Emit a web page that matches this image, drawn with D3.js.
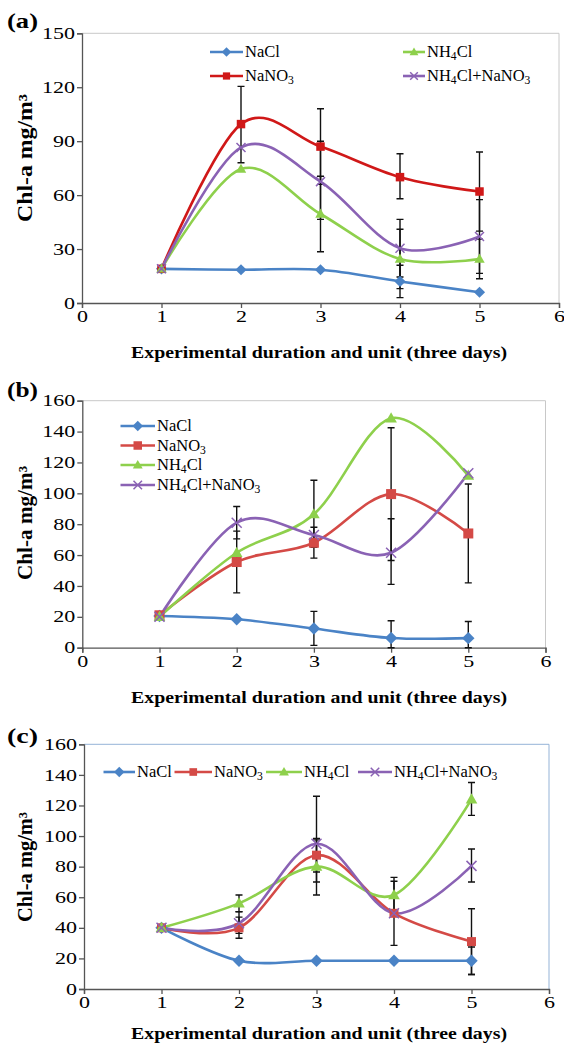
<!DOCTYPE html>
<html>
<head>
<meta charset="utf-8">
<script src="https://cdn.jsdelivr.net/npm/d3@7"></script>
<style>
  body { margin: 0; background: #fff; }
  text { font-family: "Liberation Serif", "Times New Roman", serif; fill: #000; }
</style>
</head>
<body>
<div id="chart"></div>
<script>
// x positions (three-day units)
const days = [1, 2, 3, 4, 5];
const seriesNames = ["NaCl", "NaNO3", "NH4Cl", "NH4Cl+NaNO3"];
const markerTypes = ["diamond", "square", "triangle", "cross"];

// panel (a)
const naclA  = [19, 18.5, 18.5, 12, 6];
const nano3A = [19, 99.5, 87, 70, 62];
const nh4clA = [19, 74.5, 49.5, 24.5, 24.5];
const mixA   = [19, 86.5, 67.5, 30.5, 37];
// error bars: [day, low, high]
const errA = [[2, 78, 120.5], [3, 66, 108], [3, 28.5, 70.5], [3, 46.5, 90],
              [4, 58, 83], [4, 14.5, 46.5], [4, 8, 41], [4, 3, 21],
              [5, 40, 84], [5, 16.5, 57.5], [5, 13.5, 35.5]];

// panel (b)
const naclB  = [20.5, 18.4, 12.4, 6.3, 6.2];
const nano3B = [21, 55.5, 68, 99.5, 74];
const nh4clB = [20, 61.5, 86.5, 148.6, 111.5];
const mixB   = [20, 81, 73, 61.5, 113];
const errB = [[2, 35.5, 75.5], [2, 70.5, 91.5], [3, 58, 78], [3, 65, 108.5], [3, 1.5, 23.5],
              [4, 56.5, 142.5], [4, 41, 83.5], [4, 0, 17.5],
              [5, 42, 106], [5, 0, 17]];

// panel (c)
const naclC  = [40, 18.5, 18.5, 18.5, 18.5];
const nano3C = [40, 40, 87.5, 49.5, 31];
const nh4clC = [40, 56, 80, 61.5, 124];
const mixC   = [40, 43, 95, 49.5, 80.5];
const errC = [[2, 50.5, 61.5], [2, 33.2, 47], [2, 36.4, 50.6],
              [3, 70, 126], [3, 76.5, 97.5], [3, 61.5, 98.5],
              [4, 28.5, 70.5], [4, 50, 73],
              [5, 113.5, 135], [5, 70, 91.5], [5, 9.5, 52.5], [5, 9.5, 27.5]];

const xTicks = [0, 1, 2, 3, 4, 5, 6];
const xTitle = "Experimental duration and unit (three days)";
const yTitle = "Chl-a mg/m³";

const svg = d3.select("#chart").append("svg")
  .attr("width", 564)
  .attr("height", 1045);

// writes a chemical name with subscript digits
function chemText(sel, name) {
  name.split(/(\d)/).filter(s => s).forEach(part => {
    if (/\d/.test(part)) {
      sel.append("tspan").attr("font-size", "0.7em").attr("dy", 3).text(part);
    } else {
      const t = sel.append("tspan").text(part);
      if (sel.selectAll("tspan").size() > 1) t.attr("dy", -3);
    }
  });
}

function marker(g, type, cx, cy, color, s) {
  if (type === "diamond") {
    g.append("path").attr("d", `M${cx},${cy - s * 0.62}L${cx + s * 0.62},${cy}L${cx},${cy + s * 0.62}L${cx - s * 0.62},${cy}Z`)
      .attr("fill", color);
  } else if (type === "square") {
    g.append("rect").attr("x", cx - s / 2).attr("y", cy - s / 2)
      .attr("width", s).attr("height", s).attr("fill", color);
  } else if (type === "triangle") {
    g.append("path").attr("d", `M${cx},${cy - s * 0.6}L${cx + s * 0.58},${cy + s * 0.42}L${cx - s * 0.58},${cy + s * 0.42}Z`)
      .attr("fill", color);
  } else {
    const h = s * 0.5;
    g.append("path").attr("d", `M${cx - h},${cy - h}L${cx + h},${cy + h}M${cx - h},${cy + h}L${cx + h},${cy - h}`)
      .attr("stroke", color).attr("stroke-width", 1.5).attr("fill", "none");
  }
}

function drawPanel(p) {
  const x = d3.scaleLinear().domain([0, 6]).range([p.left, p.right]);
  const y = d3.scaleLinear().domain([0, p.yMax]).range([p.bottom, p.top]);
  const g = svg.append("g");

  // plot frame
  g.append("path")
    .attr("d", `M${p.left},${p.top}H${p.right}V${p.bottom}`)
    .attr("fill", "none").attr("stroke", p.frame).attr("stroke-width", 1);

  const xa = g.append("g").attr("transform", `translate(0,${p.bottom})`)
    .call(d3.axisBottom(x).tickValues(xTicks).tickSize(5).tickPadding(3).tickFormat(d3.format("d")));
  const ya = g.append("g").attr("transform", `translate(${p.left},0)`)
    .call(d3.axisLeft(y).tickValues(d3.range(0, p.yMax + 1, p.yStep)).tickSize(5).tickPadding(2));
  [xa, ya].forEach(a => {
    a.select(".domain").attr("stroke", "#555").attr("stroke-width", 1.3);
    a.selectAll(".tick line").attr("stroke", "#555").attr("stroke-width", 1.3);
    a.selectAll(".tick text").attr("font-size", 16).attr("fill", "#000")
      .style("font-family", "'Liberation Serif', serif")
      .attr("lengthAdjust", "spacingAndGlyphs")
      .attr("textLength", function () { return this.textContent.length * 11; });
  });

  // titles
  g.append("text").attr("x", 319).attr("y", p.xTitleY)
    .attr("text-anchor", "middle").attr("font-size", 16.5).attr("font-weight", "bold")
    .attr("lengthAdjust", "spacingAndGlyphs").attr("textLength", 376)
    .text(xTitle);
  g.append("text")
    .attr("transform", `translate(32,${p.yTitleC}) rotate(-90)`)
    .attr("text-anchor", "middle").attr("font-size", 20).attr("font-weight", "bold")
    .attr("lengthAdjust", "spacingAndGlyphs").attr("textLength", p.yTitleLen)
    .text(yTitle);
  g.append("text").attr("x", 7).attr("y", p.labelY)
    .attr("font-size", 22).attr("font-weight", "bold")
    .attr("lengthAdjust", "spacingAndGlyphs").attr("textLength", 31)
    .text(p.label);

  const line = d3.line()
    .x((d, i) => x(days[i]))
    .y(d => y(d))
    .curve(d3.curveCardinal.tension(0));

  p.series.forEach((vals, k) => {
    g.append("path").datum(vals).attr("d", line)
      .attr("fill", "none").attr("stroke", p.colors[k]).attr("stroke-width", 2.6);
  });

  // error bars
  p.errors.forEach(([d, lo, hi]) => {
    const cx = x(d);
    g.append("path")
      .attr("d", `M${cx},${y(lo)}V${y(hi)}M${cx - 3.5},${y(lo)}H${cx + 3.5}M${cx - 3.5},${y(hi)}H${cx + 3.5}`)
      .attr("stroke", "#111").attr("stroke-width", 1.4).attr("fill", "none");
  });

  p.series.forEach((vals, k) => {
    vals.forEach((v, i) => marker(g, markerTypes[k], x(days[i]), y(v), p.colors[k], p.msize[k]));
  });

  // legend
  p.legend.forEach(([k, x1, x2, ly]) => {
    g.append("line").attr("x1", x1).attr("x2", x2).attr("y1", ly).attr("y2", ly)
      .attr("stroke", p.colors[k]).attr("stroke-width", 2.6);
    marker(g, markerTypes[k], (x1 + x2) / 2, ly, p.colors[k], p.msize[k] * 0.85);
    const t = g.append("text").attr("x", x2 + 2).attr("y", ly + 5).attr("font-size", 16.5);
    chemText(t, seriesNames[k]);
  });
}

drawPanel({
  left: 82, right: 559, top: 33.3, bottom: 303, yMax: 150, yStep: 30,
  frame: "#c8c8c8", label: "(a)", labelY: 28, yTitleC: 158, yTitleLen: 128, xTitleY: 358,
  series: [naclA, nano3A, nh4clA, mixA], errors: errA,
  colors: ["#4a83c6", "#d01818", "#8ed04c", "#8a62b4"],
  msize: [9, 8.5, 9, 9],
  legend: [[0, 210, 243, 52], [2, 403, 425, 52], [1, 210, 243, 76], [3, 403, 425, 76]]
});

drawPanel({
  left: 82.3, right: 545.5, top: 400.7, bottom: 647.7, yMax: 160, yStep: 20,
  frame: "#c8c8c8", label: "(b)", labelY: 397, yTitleC: 523, yTitleLen: 114, xTitleY: 703,
  series: [naclB, nano3B, nh4clB, mixB], errors: errB,
  colors: ["#4a83c6", "#d44a46", "#8ed04c", "#8a62b4"],
  msize: [10, 10, 10, 10],
  legend: [[0, 120.5, 155, 426], [1, 120.5, 155, 445.5], [2, 120.5, 155, 465], [3, 120.5, 155, 485]]
});

drawPanel({
  left: 84, right: 549, top: 744.3, bottom: 989, yMax: 160, yStep: 20,
  frame: "#95b3d7", label: "(c)", labelY: 743, yTitleC: 867, yTitleLen: 110, xTitleY: 1039,
  series: [naclC, nano3C, nh4clC, mixC], errors: errC,
  colors: ["#4a83c6", "#d44a46", "#8ed04c", "#8a62b4"],
  msize: [10, 9, 10, 10],
  legend: [[0, 103.5, 135, 772], [1, 174.5, 212, 772], [2, 266, 302, 772], [3, 358, 392, 772]]
});
</script>
</body>
</html>
